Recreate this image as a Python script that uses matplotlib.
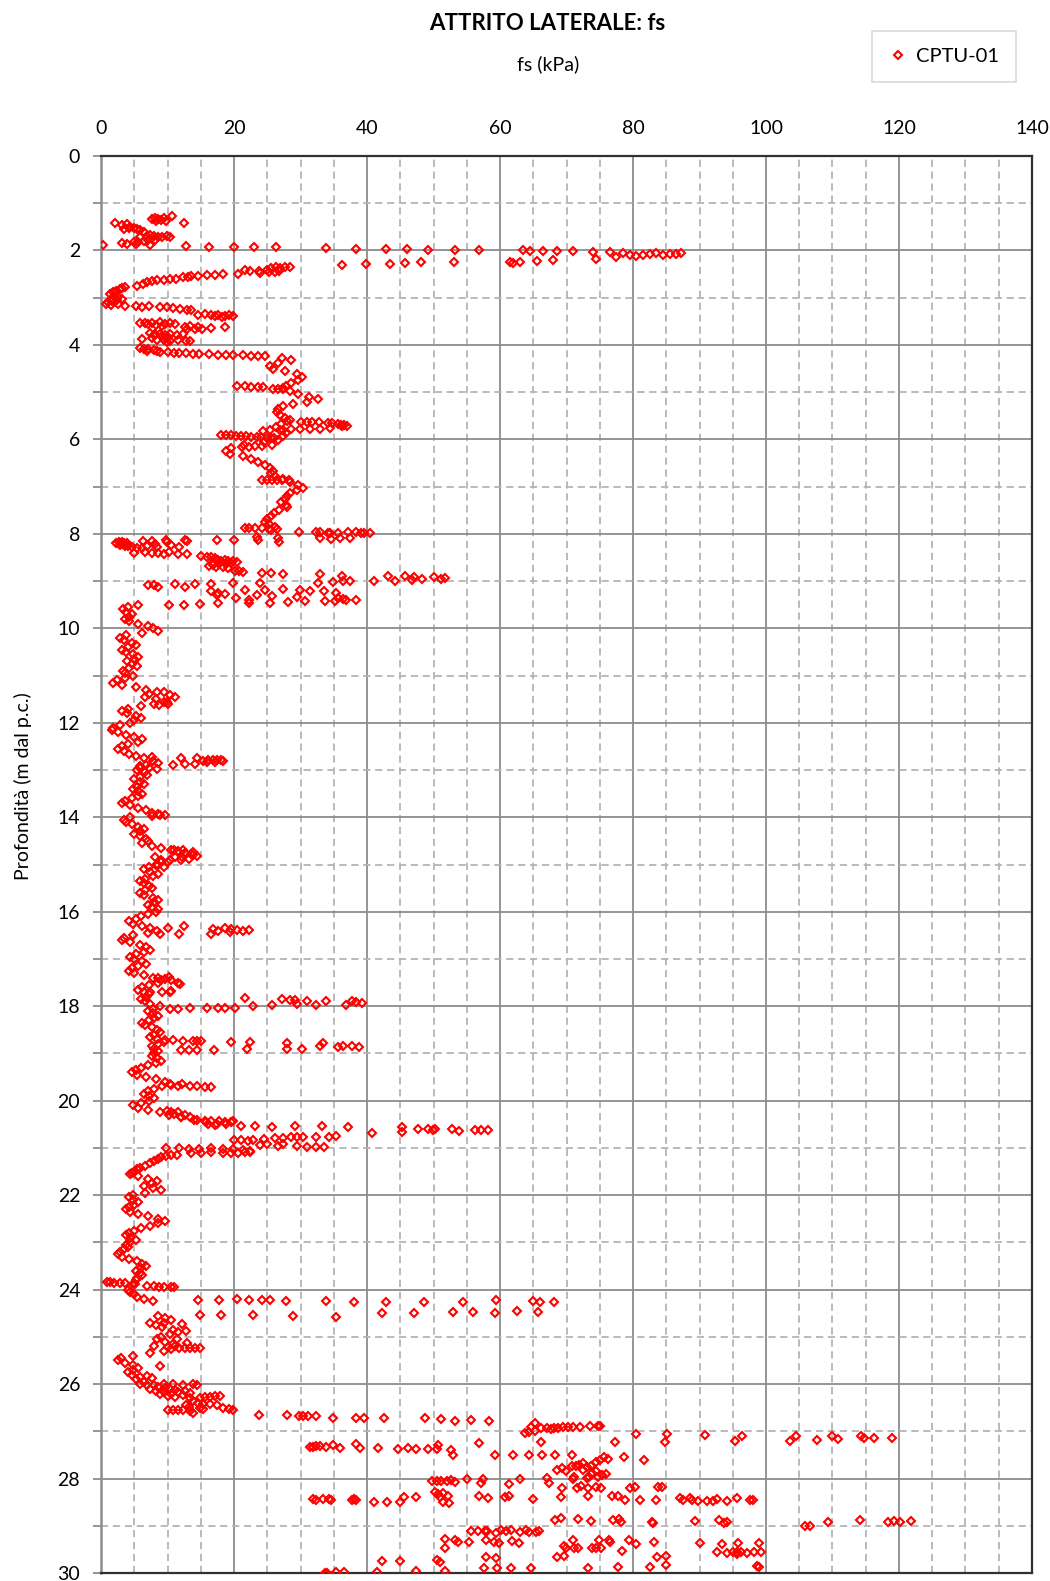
import numpy as np
import matplotlib
matplotlib.use('Agg')
from matplotlib import pyplot as plt

plt.rcParams['font.family'] = ['Lato', 'DejaVu Sans']

# ---- data (depth in m, fs in kPa) ----

# 1.3 - 1.9 m
z_top = [1.33, 1.31, 1.33, 1.35, 1.31, 1.37, 1.38, 1.28, 1.41,
         1.42, 1.46, 1.45, 1.50, 1.52, 1.55, 1.57, 1.53, 1.55, 1.60,
         1.72, 1.70, 1.68, 1.70, 1.72, 1.71, 1.70, 1.72, 1.78, 1.78, 1.80, 1.82, 1.83,
         1.85, 1.86, 1.86, 1.88]
fs_top = [7.6, 8.1, 8.6, 9.0, 9.4, 9.7, 8.3, 10.7, 12.5,
          2.1, 3.1, 3.9, 4.4, 4.9, 5.4, 5.9, 4.2, 3.5, 6.4,
          5.9, 6.9, 7.4, 7.9, 8.6, 9.2, 9.9, 10.4, 8.1, 7.1, 6.4, 5.6, 5.0,
          3.2, 3.9, 5.2, 7.4]

# rows around 2 m
z_2m = [1.89, 1.90, 1.92, 1.93, 1.93, 1.93, 1.95, 1.97, 1.97, 1.97,
        1.98, 1.99, 1.99, 2.00, 2.01, 2.02, 2.01, 2.02, 2.03, 2.04,
        2.05, 2.09, 2.11, 2.09, 2.08, 2.06, 2.09, 2.07, 2.08, 2.06,
        2.30, 2.28, 2.28, 2.27, 2.25, 2.25, 2.25, 2.26, 2.25, 2.23,
        2.21, 2.18, 2.14]
fs_2m = [0.3, 12.8, 16.2, 20.0, 23.0, 26.3, 33.9, 38.4, 42.8, 46.0,
         49.2, 53.3, 56.8, 63.5, 64.5, 66.5, 68.5, 71.0, 74.0, 76.5,
         78.5, 79.5, 80.5, 81.5, 82.5, 83.5, 84.5, 85.5, 86.5, 87.2,
         36.2, 39.8, 43.5, 45.7, 48.1, 53.1, 61.5, 62.0, 63.0, 65.5,
         68.0, 74.5, 77.5]

# 2.3 - 4.3 m
z_upper = [2.49, 2.42, 2.43, 2.44, 2.42, 2.38, 2.35, 2.37, 2.35, 2.36, 2.48, 2.46, 2.44, 2.46,
           2.50, 2.51, 2.52, 2.54, 2.55, 2.57, 2.57, 2.60, 2.61, 2.62, 2.63, 2.65, 2.67, 2.70, 2.76,
           2.77, 2.79, 2.82, 2.85, 2.88, 2.92, 2.96, 2.99, 3.02, 3.05, 3.08, 3.10, 3.13, 3.15, 3.14, 3.17, 3.18,
           3.18, 3.19, 3.20, 3.22, 3.24, 3.26, 3.27, 3.20,
           3.36, 3.35, 3.37, 3.37, 3.38, 3.37, 3.38, 3.39, 3.40,
           3.53, 3.53, 3.55, 3.54, 3.52, 3.55, 3.54, 3.55, 3.58, 3.60,
           3.62, 3.66, 3.67, 3.66, 3.65, 3.63, 3.62, 3.60,
           3.75, 3.76, 3.77, 3.78, 3.76, 3.78, 3.76, 3.80, 3.82, 3.83,
           3.87, 3.86, 3.90, 3.90, 3.91, 3.90, 3.92, 3.91, 3.94,
           4.07, 4.09, 4.08, 4.10, 4.12, 4.14, 4.12,
           4.16, 4.17, 4.18, 4.18, 4.19, 4.19, 4.20, 4.21, 4.21, 4.22, 4.22, 4.23, 4.23, 4.23]
fs_upper = [20.6, 21.6, 22.4, 23.8, 24.9, 25.6, 26.3, 26.9, 27.6, 28.4, 23.9, 26.1, 26.8, 25.2,
            18.4, 17.1, 15.9, 14.6, 13.6, 13.1, 12.4, 11.3, 10.4, 9.4, 8.4, 7.6, 6.9, 6.3, 5.4,
            3.6, 3.2, 2.8, 2.2, 1.8, 1.4, 1.9, 2.5, 3.1, 2.4, 1.6, 1.0, 0.8, 1.5, 2.6, 3.6, 5.3,
            7.2, 8.9, 9.9, 10.9, 11.9, 12.9, 13.6, 6.2,
            14.6, 15.6, 16.6, 17.6, 18.6, 19.3, 19.9, 17.1, 18.2,
            5.9, 6.6, 7.1, 7.6, 8.9, 9.6, 10.4, 11.1, 8.3, 9.2,
            12.6, 13.0, 14.1, 15.2, 16.6, 18.6, 14.6, 13.4,
            7.4, 8.1, 8.9, 9.6, 10.4, 11.4, 12.3, 7.9, 9.1, 10.1,
            6.2, 7.6, 8.4, 9.4, 10.4, 11.6, 12.8, 13.4, 9.9,
            5.9, 6.4, 7.1, 7.9, 8.4, 8.9, 6.9,
            10.0, 11.0, 11.8, 12.8, 13.8, 14.8, 16.3, 17.6, 18.8, 19.8, 21.3, 22.6, 23.6, 24.6]

# continuous trace 4.3 - 7.9 m
z_trace1 = [4.28, 4.32, 4.38, 4.44, 4.50, 4.56, 4.62, 4.68, 4.74, 4.80,
            4.86, 4.92, 4.98, 5.04, 5.10, 5.15, 5.20, 5.25, 5.30, 5.36,
            5.42, 5.48, 5.54, 5.58, 5.62, 5.68, 5.74, 5.80, 5.86, 5.92,
            5.97, 6.02, 6.06, 6.12, 6.18, 6.24, 6.30, 6.36, 6.42, 6.48,
            6.54, 6.60, 6.66, 6.72, 6.78, 6.84, 6.90, 6.96, 7.02, 7.08,
            7.14, 7.20, 7.26, 7.32, 7.38, 7.44, 7.50, 7.56, 7.62, 7.68,
            7.74, 7.80, 7.86, 7.92]
fs_trace1 = [27.2, 28.6, 26.6, 25.4, 25.8, 27.6, 29.4, 30.2, 29.6, 28.6,
             27.8, 27.4, 28.4, 29.6, 31.3, 32.6, 31.0, 28.8, 27.4, 26.6,
             26.4, 26.9, 27.6, 28.4, 28.0, 27.1, 26.3, 27.4, 27.8, 27.3,
             26.0, 26.6, 24.5, 21.5, 19.6, 18.8, 19.4, 21.4, 22.6, 23.6,
             24.6, 25.4, 25.8, 25.6, 26.2, 27.4, 28.4, 29.6, 30.4, 29.4,
             28.4, 28.0, 27.6, 27.0, 27.8, 27.9, 26.8, 26.0, 25.6, 25.0,
             24.6, 25.2, 26.2, 25.6]

# rows beside the 4.3 - 8.1 m trace
z_side1 = [4.88, 4.88, 4.89, 4.89, 4.90, 4.93, 4.93, 4.93,
           5.63, 5.63, 5.64, 5.64, 5.65, 5.66, 5.68, 5.69, 5.70, 5.71, 5.72,
           5.79, 5.79, 5.78, 5.77, 5.76, 5.82, 5.81, 5.80,
           5.90, 5.90, 5.91, 5.92, 5.92, 5.93, 5.94, 5.94, 5.95, 5.96, 5.97,
           6.16, 6.16, 6.15, 6.14, 6.12,
           6.85, 6.86, 6.86, 6.85, 6.86, 6.87,
           7.87, 7.87, 7.88, 7.88, 7.89, 7.90,
           7.96, 7.96, 7.97, 7.98, 7.99, 7.98, 7.97, 7.97, 7.98, 7.98, 7.99,
           8.07, 8.08, 8.09, 8.10, 8.08, 8.09]
fs_side1 = [20.4, 21.6, 22.6, 23.6, 24.4, 25.8, 26.6, 27.3,
            30.0, 31.0, 31.8, 32.8, 34.1, 34.8, 35.6, 36.1, 36.6, 37.0, 36.3,
            28.6, 29.9, 31.4, 32.9, 34.4, 24.4, 25.4, 26.9,
            18.1, 18.8, 19.6, 20.3, 21.1, 21.8, 22.6, 23.4, 24.1, 24.9, 25.6,
            21.2, 22.2, 23.2, 24.2, 25.7,
            24.2, 24.9, 25.7, 26.4, 27.2, 28.2,
            21.7, 22.2, 23.2, 24.2, 25.2, 26.4,
            29.7, 32.4, 33.0, 34.1, 34.4, 35.6, 37.1, 38.4, 39.1, 39.6, 40.4,
            23.4, 26.6, 32.9, 34.6, 35.9, 37.4]

# 8.1 - 9.5 m
z_mid = [8.20, 8.18, 8.17, 8.19, 8.22, 8.24, 8.26, 8.25,
         8.20, 8.27, 8.29, 8.30, 8.16, 8.16, 8.22, 8.17, 8.24, 8.28, 8.16, 8.28, 8.25,
         8.13, 8.13, 8.14, 8.14, 8.14, 8.17,
         8.40, 8.38, 8.41, 8.42, 8.43, 8.42, 8.40, 8.38,
         8.47, 8.48, 8.50, 8.52, 8.55, 8.57, 8.56, 8.58, 8.58, 8.60, 8.62, 8.64, 8.64,
         8.66, 8.67, 8.70, 8.71, 8.72,
         8.78, 8.79, 8.80, 8.83, 8.83, 8.85,
         8.86, 8.90, 8.90, 9.00, 8.90, 8.97, 8.92, 8.96, 8.92, 8.96, 8.93, 8.99,
         9.00, 9.00, 9.02, 9.04, 9.04,
         9.08, 9.08, 9.12, 9.07, 9.12, 9.07, 9.06, 9.20, 9.29, 9.25, 9.27, 9.04,
         9.36, 9.18, 9.39, 9.29, 9.18, 9.32, 9.17, 9.45, 9.34, 9.18, 9.43, 9.20,
         9.20, 9.43, 9.25, 9.36, 9.39, 9.39, 9.43, 9.38,
         9.50, 9.50, 9.49, 9.46, 9.46, 9.46]
fs_mid = [2.3, 2.7, 3.1, 3.5, 3.2, 2.8, 3.6, 4.1,
          3.9, 4.7, 5.4, 6.1, 6.3, 7.6, 8.1, 9.9, 10.6, 11.7, 13.0, 8.4, 6.9,
          9.8, 12.7, 17.4, 20.0, 23.6, 26.7,
          5.0, 6.6, 8.5, 9.5, 11.6, 13.0, 7.6, 10.2,
          15.1, 15.9, 16.6, 17.1, 17.6, 18.1, 18.6, 19.1, 19.9, 20.4, 19.6, 18.8, 17.8,
          16.9, 16.3, 17.3, 18.4, 19.1,
          20.1, 20.8, 21.4, 24.2, 25.6, 27.3,
          32.9, 36.2, 43.2, 44.2, 45.7, 46.7, 47.0, 48.2, 50.0, 51.2, 51.7, 41.0,
          36.4, 37.4, 34.9, 32.7, 23.9,
          7.1, 7.9, 8.6, 11.1, 12.6, 14.1, 16.6, 16.5, 17.4, 17.6, 18.6, 19.9,
          20.3, 21.7, 22.3, 23.4, 24.7, 25.7, 27.4, 28.1, 29.4, 29.9, 30.7, 31.5,
          33.6, 33.7, 35.3, 35.7, 36.9, 38.3, 35.2, 36.4,
          10.2, 12.5, 14.9, 17.6, 22.2, 25.4]

# continuous trace 9.5 - 20.5 m
z_trace2 = [9.50, 9.55, 9.60, 9.65, 9.70, 9.75, 9.80, 9.85, 9.90, 9.95,
            10.00, 10.05, 10.10, 10.15, 10.20, 10.25, 10.30, 10.35, 10.40, 10.45,
            10.50, 10.55, 10.60, 10.65, 10.70, 10.75, 10.80, 10.85, 10.90, 10.95,
            11.00, 11.05, 11.10, 11.15, 11.20, 11.25, 11.30, 11.35, 11.40, 11.45,
            11.50, 11.55, 11.60, 11.65, 11.70, 11.75, 11.80, 11.85, 11.90, 11.95,
            12.00, 12.05, 12.10, 12.15, 12.20, 12.25, 12.30, 12.35, 12.40, 12.45,
            12.50, 12.55, 12.60, 12.65, 12.70, 12.75, 12.80, 12.85, 12.90, 12.95,
            13.00, 13.05, 13.10, 13.15, 13.20, 13.25, 13.30, 13.35, 13.40, 13.45,
            13.50, 13.55, 13.60, 13.65, 13.70, 13.75, 13.80, 13.85, 13.90, 13.95,
            14.00, 14.05, 14.10, 14.15, 14.20, 14.25, 14.30, 14.35, 14.40, 14.45,
            14.50, 14.55, 14.60, 14.65, 14.70, 14.75, 14.80, 14.85, 14.90, 14.95,
            15.00, 15.05, 15.10, 15.15, 15.20, 15.25, 15.30, 15.35, 15.40, 15.45,
            15.50, 15.55, 15.60, 15.65, 15.70, 15.75, 15.80, 15.85, 15.90, 15.95,
            16.00, 16.05, 16.10, 16.15, 16.20, 16.25, 16.30, 16.35, 16.40, 16.45,
            16.50, 16.55, 16.60, 16.65, 16.70, 16.75, 16.80, 16.85, 16.90, 16.95,
            17.00, 17.05, 17.10, 17.15, 17.20, 17.25, 17.30, 17.35, 17.40, 17.45,
            17.50, 17.55, 17.60, 17.65, 17.70, 17.75, 17.80, 17.85, 17.90, 17.95,
            18.00, 18.05, 18.10, 18.15, 18.20, 18.25, 18.30, 18.35, 18.40, 18.45,
            18.50, 18.55, 18.60, 18.65, 18.70, 18.75, 18.80, 18.85, 18.90, 18.95,
            19.00, 19.05, 19.10, 19.15, 19.20, 19.25, 19.30, 19.35, 19.40, 19.45,
            19.50, 19.55, 19.60, 19.65, 19.70, 19.75, 19.80, 19.85, 19.90, 19.95,
            20.00, 20.05, 20.10, 20.15, 20.20, 20.25, 20.30, 20.35, 20.40, 20.45,
            20.50]
fs_trace2 = [5.5, 4.0, 3.3, 3.8, 4.6, 4.2, 3.6, 4.2, 5.6, 7.0,
             7.8, 8.6, 6.2, 3.8, 2.8, 3.4, 4.6, 5.2, 4.0, 3.2,
             3.8, 4.8, 5.6, 4.9, 3.9, 4.6, 5.4, 4.2, 3.3, 3.6,
             4.8, 3.6, 2.4, 1.8, 3.2, 5.2, 6.8, 8.4, 7.2, 6.6,
             8.2, 9.4, 8.0, 6.0, 4.0, 3.2, 3.9, 5.2, 6.0, 5.0,
             4.3, 2.8, 1.8, 1.6, 2.6, 3.8, 5.0, 6.2, 5.6, 4.0,
             3.2, 2.6, 3.4, 4.2, 5.2, 6.4, 7.8, 8.6, 6.8, 5.8,
             5.4, 6.6, 6.9, 5.8, 5.0, 5.8, 6.5, 5.4, 4.8, 5.6,
             6.2, 5.6, 4.6, 3.6, 3.2, 4.4, 5.6, 6.8, 7.6, 8.8,
             4.4, 3.4, 3.8, 4.6, 5.6, 6.4, 5.8, 5.0, 5.8, 6.8,
             7.0, 6.2, 7.6, 9.0, 11.0, 12.6, 13.8, 12.2, 10.4, 9.0,
             8.2, 7.2, 6.4, 7.4, 8.6, 7.8, 6.6, 5.8, 6.4, 7.2,
             7.6, 6.6, 5.8, 6.4, 7.8, 8.6, 8.0, 7.0, 7.6, 8.6,
             8.2, 7.0, 6.0, 5.2, 4.2, 4.8, 6.2, 7.4, 8.4, 7.0,
             4.8, 3.4, 3.2, 4.4, 5.8, 6.8, 7.4, 6.4, 5.2, 4.4,
             5.0, 6.2, 6.8, 5.6, 4.6, 4.2, 5.0, 6.4, 7.8, 9.0,
             8.6, 7.2, 6.2, 5.6, 6.4, 7.2, 6.8, 6.0, 6.6, 7.4,
             8.8, 7.8, 7.0, 7.8, 8.6, 8.0, 7.2, 6.2, 6.6, 7.6,
             8.4, 8.8, 8.0, 7.4, 8.4, 9.4, 8.6, 7.6, 8.0, 8.6,
             8.0, 7.6, 8.4, 9.0, 8.2, 7.0, 6.0, 5.2, 4.6, 5.4,
             6.8, 8.2, 9.6, 10.4, 9.2, 8.0, 7.0, 6.4, 7.2, 8.0,
             7.2, 6.0, 4.8, 5.6, 7.0, 8.8, 10.2, 12.0, 14.0, 15.8,
             17.4]

# scattered readings beside the 9.5 - 20.5 m trace
z_side2 = [11.35, 11.42, 11.45, 11.55, 11.62, 11.60,
           12.73, 12.74, 12.74, 12.90, 12.88, 12.88, 12.80, 12.79, 12.79, 12.78, 12.78, 12.80, 12.82, 12.83, 12.92, 12.96, 12.97,
           13.95, 13.94, 13.97,
           14.70, 14.72, 14.75, 14.78, 14.82, 14.88, 14.90, 14.85, 14.84, 14.90, 14.95, 15.00, 15.05, 14.70, 14.73,
           16.34, 16.31, 16.47, 16.37, 16.35, 16.37, 16.38, 16.40, 16.39, 16.48, 16.47, 16.42, 16.41,
           17.40, 17.42, 17.45, 17.50, 17.53, 17.38,
           17.83, 17.99, 17.98, 17.84, 17.86, 17.87, 17.95, 17.88, 17.97, 17.90, 17.97, 17.90, 17.92, 17.93,
           18.04, 18.04, 18.03, 18.03, 18.03, 18.06, 18.05, 17.70, 17.69, 17.68, 17.70,
           18.71, 18.72, 18.73, 18.73, 18.74, 18.73, 18.75, 18.76, 18.90, 18.77, 18.91, 18.91, 18.78, 18.85,
           18.87, 18.84, 18.85, 18.86, 18.92, 18.92, 18.93, 18.93,
           19.70, 19.69, 19.72, 19.72, 19.66, 19.68, 19.64,
           20.22, 20.24, 20.25, 20.30, 20.34, 20.40, 20.42, 20.44, 20.44, 20.46, 20.45, 20.42, 20.50, 20.51,
           20.49, 20.28, 20.35]
fs_side2 = [9.4, 10.4, 11.1, 9.9, 8.7, 10.1,
            7.6, 12.0, 14.4, 10.9, 12.6, 14.1, 15.4, 16.1, 16.8, 17.4, 18.0, 18.4, 17.1, 15.9, 5.8, 7.2, 8.4,
            9.6, 8.6, 7.6,
            10.6, 11.6, 12.6, 13.6, 14.4, 13.2, 12.0, 11.2, 8.1, 9.0, 10.1, 8.6, 9.4, 12.4, 13.8,
            10.1, 12.5, 11.8, 16.9, 18.6, 19.6, 20.4, 21.4, 22.3, 8.8, 16.6, 19.4, 17.6,
            8.6, 9.6, 10.6, 11.6, 11.9, 10.2,
            21.7, 22.9, 25.7, 27.2, 28.4, 29.2, 29.4, 31.0, 32.4, 33.9, 36.8, 37.7, 38.4, 39.3,
            13.4, 16.0, 17.6, 18.6, 20.2, 10.4, 11.6, 9.2, 10.4, 10.6, 7.4,
            9.6, 10.9, 12.4, 13.9, 14.4, 15.1, 19.6, 22.4, 21.9, 27.9, 27.9, 30.3, 33.4, 32.9,
            35.7, 36.4, 37.7, 38.8, 17.0, 14.5, 13.3, 12.1,
            13.4, 14.4, 15.6, 16.6, 10.5, 11.6, 12.2,
            9.9, 10.6, 11.6, 12.6, 13.4, 14.4, 15.6, 16.6, 17.8, 18.6, 19.6, 19.9, 16.1, 17.1,
            18.8, 11.0, 12.0]

# 20.5 - 21.5 m
z_21m = [20.54, 20.54, 20.55, 20.54, 20.54, 20.55, 20.69, 20.55, 20.66, 20.59, 20.59, 20.62, 20.59,
         20.61, 20.64, 20.62, 20.63, 20.62,
         20.84, 20.84, 20.85, 20.84, 20.82, 20.79, 20.79, 20.76, 20.76, 20.77, 20.76, 20.76, 20.75,
         20.94, 20.92, 20.95, 20.92, 20.95, 20.98, 20.98, 20.98,
         21.00, 21.00, 21.02, 21.03, 21.00, 21.02, 21.03, 21.05, 21.06,
         21.10, 21.10, 21.09, 21.10, 21.10, 21.10, 21.09, 21.08,
         21.14, 21.16, 21.18, 21.20, 21.24, 21.28, 21.33, 21.38, 21.42, 21.45, 21.50, 21.53]
fs_21m = [21.1, 23.1, 25.7, 29.2, 33.3, 37.2, 40.7, 45.2, 45.2, 47.6, 49.1, 49.9, 50.3,
          52.8, 53.8, 56.2, 57.2, 58.2,
          20.0, 21.1, 22.1, 22.9, 24.5, 26.1, 27.3, 28.5, 29.5, 30.4, 32.4, 34.3, 35.4,
          23.9, 24.9, 26.6, 27.4, 29.5, 31.0, 32.3, 33.5,
          9.8, 11.8, 13.3, 14.8, 16.5, 18.3, 19.8, 21.4, 22.4,
          13.6, 15.1, 16.6, 18.3, 19.6, 20.6, 21.6, 22.4,
          11.4, 10.6, 9.7, 9.0, 8.5, 7.9, 7.3, 6.6, 5.9, 5.4, 5.0, 4.6]

# continuous trace 21.5 - 24.3 m
z_trace3 = [21.55, 21.60, 21.65, 21.70, 21.75, 21.80, 21.85, 21.90, 21.95, 22.00,
            22.05, 22.10, 22.15, 22.20, 22.25, 22.30, 22.35, 22.40, 22.45, 22.50,
            22.55, 22.60, 22.65, 22.70, 22.75, 22.80, 22.85, 22.90, 22.95, 23.00,
            23.05, 23.10, 23.15, 23.20, 23.25, 23.30, 23.35, 23.40, 23.45, 23.50,
            23.55, 23.60, 23.65, 23.70, 23.75, 23.80,
            24.00, 24.05, 24.10, 24.15, 24.20, 24.25]
fs_trace3 = [4.4, 5.6, 7.0, 8.4, 7.6, 6.4, 7.8, 9.0, 6.6, 4.8,
             4.2, 4.8, 5.6, 5.0, 4.2, 3.8, 4.4, 5.6, 7.0, 8.6,
             9.6, 8.6, 7.4, 6.0, 5.0, 4.2, 3.8, 4.4, 5.2, 4.4,
             3.8, 4.0, 3.4, 2.8, 2.6, 3.2, 4.2, 5.4, 6.2, 6.8,
             6.0, 5.2, 5.8, 6.2, 5.4, 5.2,
             4.0, 4.4, 4.9, 5.4, 6.4, 7.8]

# rows 23.8 - 24.6 m
z_24m = [23.83, 23.84, 23.85, 23.86, 23.87, 23.88, 23.88,
         23.92, 23.93, 23.95, 23.95, 23.94, 23.94,
         24.21, 24.21, 24.20, 24.22, 24.22, 24.22, 24.24, 24.25, 24.26, 24.27, 24.27, 24.26,
         24.23, 24.25, 24.26, 24.27,
         24.53, 24.53, 24.53, 24.56, 24.57, 24.50, 24.50, 24.47, 24.48, 24.49, 24.45, 24.47]
fs_24m = [0.9, 1.4, 2.0, 2.9, 3.6, 4.8, 5.1,
          6.9, 7.9, 8.7, 9.4, 10.6, 11.0,
          14.6, 17.7, 20.4, 22.3, 24.2, 25.4, 27.8, 33.9, 38.1, 42.9, 48.5, 54.5,
          59.4, 64.9, 66.0, 68.1,
          14.9, 18.1, 22.9, 28.8, 35.4, 42.2, 47.1, 53.0, 55.9, 59.3, 62.5, 65.7]

# continuous trace 24.5 - 26.0 m
z_trace4 = [24.55, 24.60, 24.65, 24.70, 24.75, 24.80, 24.85, 24.90, 24.95, 25.00,
            25.05, 25.10, 25.15, 25.20, 25.25, 25.30, 25.35, 25.40, 25.45, 25.50,
            25.55, 25.60, 25.65, 25.70, 25.75, 25.80, 25.85, 25.90, 25.95]
fs_trace4 = [8.6, 9.6, 10.6, 9.4, 8.2, 9.2, 10.8, 11.6, 10.4, 9.0,
             8.4, 9.6, 10.8, 11.2, 10.6, 9.4, 7.4, 4.8, 3.0, 2.6,
             3.6, 4.8, 5.6, 4.8, 4.0, 4.6, 5.8, 5.2, 6.4]

# 24.6 - 26.8 m scatter
z_26m = [24.70, 24.72, 24.88, 25.05, 25.12, 25.20,
         25.22, 25.23, 25.24, 25.23, 25.24, 25.23, 25.62, 25.83, 25.88,
         26.00, 26.01, 26.03, 25.99, 26.00, 26.02, 26.00, 26.03,
         26.06, 26.08, 26.10, 26.12, 26.10, 26.14, 26.17, 26.20, 26.16, 26.14, 26.18,
         26.22, 26.25, 26.28, 26.24, 26.30, 26.30, 26.28, 26.27, 26.26, 26.25,
         26.36, 26.40, 26.43, 26.42, 26.45, 26.50, 26.52, 26.55,
         26.55, 26.55, 26.55, 26.54, 26.57, 26.62, 26.50, 26.53, 26.45, 26.48,
         26.66, 26.66, 26.67, 26.68, 26.67, 26.68, 26.71, 26.71, 26.71, 26.72, 26.72, 26.73]
fs_26m = [7.4, 12.2, 12.8, 11.4, 12.9, 8.0,
          10.1, 11.8, 12.6, 13.4, 14.2, 14.9, 8.9, 6.9, 7.6,
          5.9, 6.9, 7.9, 9.4, 10.9, 12.4, 13.9, 14.4,
          8.6, 9.6, 10.4, 11.2, 7.4, 8.2, 9.4, 10.6, 11.6, 12.6, 13.4,
          8.9, 10.1, 11.1, 12.4, 13.4, 14.9, 15.6, 16.4, 17.1, 17.9,
          13.9, 14.6, 15.4, 16.4, 17.4, 18.4, 19.2, 19.9,
          10.1, 10.9, 11.6, 12.4, 13.4, 13.9, 14.9, 15.4, 12.8, 13.2,
          23.8, 27.9, 29.7, 30.4, 31.2, 32.4, 34.9, 38.3, 39.6, 42.5, 48.7, 51.1]

# 27 - 30 m, below 53 kPa
z_deep_a = [27.33, 27.33, 27.31, 27.32, 27.34, 27.30, 27.35, 27.27, 27.36, 27.36,
            27.37, 27.36, 27.37, 27.37, 27.38, 27.28, 27.40,
            28.05, 28.05, 28.05, 28.06, 28.04, 28.07,
            28.44, 28.45, 28.44, 28.43, 28.46, 28.45, 28.44, 28.46, 28.50, 28.50,
            28.50, 28.40, 28.40, 28.28, 28.33, 28.30, 28.36, 28.40, 28.50, 28.52,
            29.27, 29.47,
            29.99, 29.99, 29.97, 29.97, 29.97, 29.74, 29.74, 29.96, 29.73, 29.76, 29.95]
fs_deep_a = [31.4, 31.9, 32.4, 32.9, 33.8, 34.9, 35.9, 38.3, 39.0, 41.6,
             44.7, 46.2, 47.4, 49.2, 50.6, 50.7, 52.6,
             49.7, 50.5, 51.2, 52.0, 52.7, 53.2,
             31.9, 32.4, 33.4, 34.3, 34.6, 37.7, 38.1, 38.4, 41.0, 43.0,
             45.0, 45.6, 47.4, 50.2, 50.7, 51.4, 52.2, 51.0, 51.5, 52.4,
             51.7, 51.7,
             33.7, 34.0, 35.3, 36.5, 41.5, 42.2, 45.0, 47.4, 50.5, 51.0, 51.7]

# 26.7 - 30 m, above 53 kPa
z_deep_b = [26.78, 26.77, 26.78,
            26.83, 26.90, 27.03, 27.02, 27.00, 26.92, 26.93, 26.95, 26.92, 26.93, 26.91, 26.91,
            26.90, 26.90, 26.89, 26.89, 26.88,
            27.25, 27.23, 27.23, 27.06, 27.06, 27.22, 27.08, 27.21, 27.09, 27.20, 27.11, 27.18,
            27.11, 27.17, 27.11, 27.15, 27.15, 27.14,
            27.50, 27.50, 27.50, 27.50, 27.50, 27.50, 27.50, 27.54, 27.60,
            27.82, 27.78, 27.85, 27.74, 27.73, 27.71, 27.67, 27.76, 27.73, 27.64, 27.60, 27.55,
            27.59, 27.92, 27.91, 27.96, 27.97, 27.89, 27.83, 27.82, 27.96, 27.98, 28.00, 27.98,
            28.00, 28.00, 28.10, 28.00, 28.11, 28.10, 28.20, 28.20, 28.16, 28.20, 28.18, 28.20,
            28.20, 28.18, 28.18, 28.18,
            28.38, 28.42, 28.40, 28.37, 28.43, 28.40, 28.38, 28.38, 28.38, 28.45, 28.45, 28.46,
            28.42, 28.45, 28.41, 28.45, 28.48, 28.48, 28.47, 28.43, 28.47, 28.42, 28.46, 28.46,
            28.88, 28.84, 28.85, 28.90, 28.88, 28.85, 28.92, 28.91, 28.95, 28.90, 28.88, 28.95,
            28.92, 29.00, 29.01, 28.92, 28.87, 28.91, 28.89, 28.91, 28.90,
            29.11, 29.11, 29.11, 29.12, 29.15, 29.10, 29.12, 29.10, 29.13, 29.10, 29.14, 29.13,
            29.12, 29.30, 29.34, 29.35, 29.30, 29.34, 29.37, 29.32, 29.36, 29.30, 29.30, 29.30,
            29.35, 29.30, 29.38, 29.35, 29.37, 29.38, 29.37, 29.37,
            29.43, 29.47, 29.48, 29.48, 29.48, 29.48, 29.48, 29.53, 29.55, 29.57, 29.56, 29.55,
            29.55, 29.57, 29.56, 29.56, 29.60, 29.67, 29.69, 29.67, 29.63, 29.67, 29.65,
            29.90, 29.90, 29.90, 29.90, 29.90, 29.88, 29.87, 29.83, 29.85, 29.88]
fs_deep_b = [53.3, 55.6, 58.4,
             65.2, 64.7, 63.8, 64.4, 65.3, 66.2, 67.0, 67.6, 68.1, 68.7, 69.4, 70.2,
             71.0, 72.0, 73.5, 74.7, 75.0,
             56.8, 66.2, 77.3, 80.5, 85.1, 84.8, 90.8, 95.3, 96.4, 103.6, 104.5, 107.7,
             110.0, 110.8, 114.3, 114.8, 116.3, 118.9,
             52.9, 59.3, 62.0, 64.3, 66.3, 68.2, 70.8, 78.7, 81.6,
             68.5, 69.3, 69.9, 70.8, 71.4, 71.9, 72.5, 73.1, 73.7, 74.5, 75.1, 75.7,
             76.3, 75.4, 76.0, 74.8, 73.4, 73.9, 74.5, 72.5, 71.1, 67.0, 71.0, 73.1,
             55.0, 57.5, 57.2, 63.0, 61.4, 67.3, 69.3, 71.6, 72.2, 73.3, 74.5, 75.2,
             79.6, 80.3, 83.7, 84.3,
             56.8, 58.2, 60.7, 61.4, 64.9, 69.1, 73.2, 76.8, 77.7, 78.8, 81.0, 83.5,
             87.1, 87.5, 88.6, 88.9, 89.8, 91.2, 92.0, 92.6, 94.1, 95.7, 97.6, 98.1,
             68.3, 69.2, 71.8, 73.7, 77.0, 77.9, 78.2, 82.8, 83.0, 89.3, 93.0, 93.7,
             94.2, 105.8, 106.6, 109.3, 114.2, 118.3, 119.2, 120.2, 121.8,
             55.6, 56.7, 57.7, 58.1, 59.4, 60.1, 60.9, 61.7, 63.0, 63.9, 64.4, 65.4,
             65.9, 53.3, 53.7, 55.3, 57.9, 59.1, 59.8, 61.8, 62.9, 71.0, 74.9, 76.4,
             76.6, 79.4, 80.4, 83.1, 90.0, 93.4, 95.8, 99.0,
             69.6, 69.9, 71.1, 71.8, 73.8, 74.5, 75.2, 78.4, 92.7, 94.1, 95.0, 95.7,
             96.3, 97.2, 98.2, 99.2, 95.7, 57.9, 59.4, 68.5, 69.6, 83.6, 84.9,
             57.6, 59.5, 61.7, 64.7, 73.2, 77.8, 82.6, 85.0, 98.7, 98.9]

segments = [
    (z_top, fs_top), (z_2m, fs_2m), (z_upper, fs_upper),
    (z_trace1, fs_trace1), (z_side1, fs_side1), (z_mid, fs_mid),
    (z_trace2, fs_trace2), (z_side2, fs_side2), (z_21m, fs_21m),
    (z_trace3, fs_trace3), (z_24m, fs_24m), (z_trace4, fs_trace4),
    (z_26m, fs_26m), (z_deep_a, fs_deep_a), (z_deep_b, fs_deep_b),
]
for i, (zz, ff) in enumerate(segments):
    assert len(zz) == len(ff), (i, len(zz), len(ff))

depth = np.concatenate([np.array(s[0]) for s in segments])
fs = np.concatenate([np.array(s[1]) for s in segments])

# ---- figure ----
W, H = 1050, 1581
fig = plt.figure(figsize=(W / 100, H / 100), dpi=100)
ax = fig.add_axes([101 / W, 8 / H, 931 / W, 1417 / H])

line, = ax.plot(fs, depth, linestyle='none', marker='D', markersize=4.3,
                markerfacecolor='none', markeredgecolor='#ff0000',
                markeredgewidth=1.5, label='CPTU-01', zorder=3)

ax.set_xlim(0, 140)
ax.set_ylim(30, 0)
ax.xaxis.tick_top()
ax.set_xticks(range(0, 141, 20))
ax.set_xticks(range(0, 141, 5), minor=True)
ax.set_yticks(range(0, 31, 2))
ax.set_yticks(range(0, 31, 1), minor=True)

ax.grid(which='major', color='#8c8c8c', linewidth=1.3, linestyle='-')
ax.grid(which='minor', color='#b4b4b4', linewidth=1.3, linestyle=(0, (4, 2.6)))
ax.set_axisbelow(True)

ax.tick_params(axis='x', which='both', length=0, pad=14, labelsize=14)
ax.tick_params(axis='y', which='both', direction='out', length=6,
               color='#8c8c8c', width=1.3, pad=9, labelsize=14)

for side in ['top', 'right', 'bottom']:
    ax.spines[side].set_color('#303030')
    ax.spines[side].set_linewidth(1.6)
ax.spines['left'].set_color('#8c8c8c')
ax.spines['left'].set_linewidth(1.8)

ax.set_ylabel('Profondità (m dal p.c.)', fontsize=14)
ax.yaxis.set_label_coords(-0.074, 0.555)

fig.text(547 / W, 1 - 24 / H, 'ATTRITO LATERALE: fs', ha='center', va='center',
         fontsize=16, fontweight='bold')
fig.text(548 / W, 1 - 64 / H, 'fs (kPa)', ha='center', va='center', fontsize=14)

leg = fig.legend(handles=[line], loc='center', bbox_to_anchor=(944 / W, 1 - 56.5 / H),
                 fontsize=14.5, frameon=True, fancybox=False, edgecolor='#d0d0d0',
                 handlelength=0.9, handletextpad=0.45, borderpad=0.85)
leg.get_frame().set_linewidth(1.2)

fig.savefig('out.png', dpi=100)
